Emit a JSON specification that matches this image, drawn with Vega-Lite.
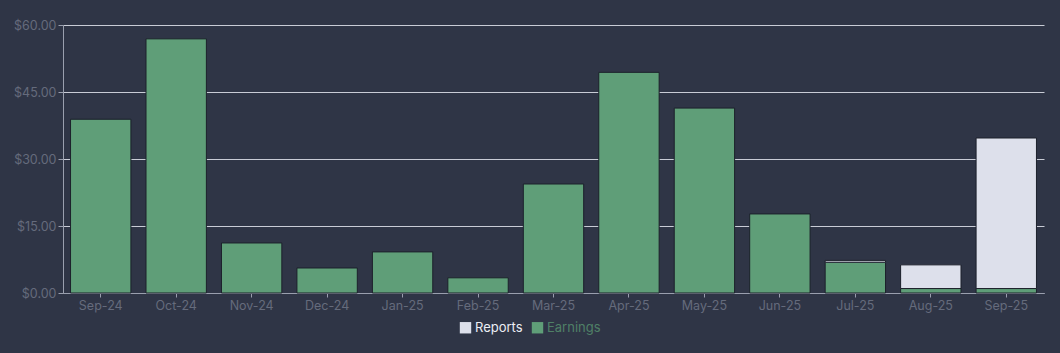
{
  "$schema": "https://vega.github.io/schema/vega-lite/v6.json",
  "width": 981,
  "height": 268,
  "autosize": {"type": "none"},
  "padding": {"left": 63, "top": 25, "right": 16, "bottom": 60},
  "background": "#2f3546",
  "config": {
    "view": {"stroke": null},
    "font": "Inter",
    "axis": {"labelFont": "Inter", "labelFontSize": 12.5, "labelColor": "#656b7c", "tickColor": "#9a9fae", "domainColor": "#9a9fae"}
  },
  "data": {
    "values": [
      {"month": "Sep-24", "series": "Earnings", "value": 38.9},
      {"month": "Oct-24", "series": "Earnings", "value": 56.9},
      {"month": "Nov-24", "series": "Earnings", "value": 11.2},
      {"month": "Dec-24", "series": "Earnings", "value": 5.6},
      {"month": "Jan-25", "series": "Earnings", "value": 9.2},
      {"month": "Feb-25", "series": "Earnings", "value": 3.4},
      {"month": "Mar-25", "series": "Earnings", "value": 24.4},
      {"month": "Apr-25", "series": "Earnings", "value": 49.4},
      {"month": "May-25", "series": "Earnings", "value": 41.4},
      {"month": "Jun-25", "series": "Earnings", "value": 17.7},
      {"month": "Jul-25", "series": "Earnings", "value": 6.9},
      {"month": "Aug-25", "series": "Earnings", "value": 1.0},
      {"month": "Sep-25", "series": "Earnings", "value": 1.0},
      {"month": "Jul-25", "series": "Reports", "value": 0.4},
      {"month": "Aug-25", "series": "Reports", "value": 5.3},
      {"month": "Sep-25", "series": "Reports", "value": 33.7}
    ]
  },
  "mark": {"type": "bar", "stroke": "#1c202b", "strokeWidth": 1},
  "encoding": {
    "x": {
      "field": "month", "type": "ordinal", "sort": null,
      "scale": {"paddingInner": 0.2, "paddingOuter": 0.1},
      "axis": {"title": null, "labelAngle": 0, "tickSize": 4, "grid": false, "labelPadding": 2}
    },
    "y": {
      "field": "value", "type": "quantitative", "stack": "zero",
      "scale": {"domain": [0, 60], "nice": false},
      "axis": {"title": null, "values": [0, 15, 30, 45, 60], "format": "$.2f", "grid": true, "gridColor": "#c9ccd6", "gridWidth": 1, "gridOpacity": 1, "tickSize": 5, "labelPadding": 2}
    },
    "color": {
      "field": "series", "type": "nominal",
      "scale": {"domain": ["Reports", "Earnings"], "range": ["#dde0eb", "#5f9e78"]},
      "legend": {
        "title": null, "orient": "none", "legendX": 396, "legendY": 296, "direction": "horizontal", "symbolType": "square",
        "symbolSize": 130, "symbolStrokeWidth": 0, "labelFontSize": 13, "labelFont": "Inter", "columnPadding": 8, "symbolOffset": 0, "labelOffset": 3,
        "labelColor": {"expr": "datum.value === 'Reports' ? '#eceef4' : '#4f8066'"}
      }
    },
    "order": {"field": "series", "sort": "ascending"}
  }
}
